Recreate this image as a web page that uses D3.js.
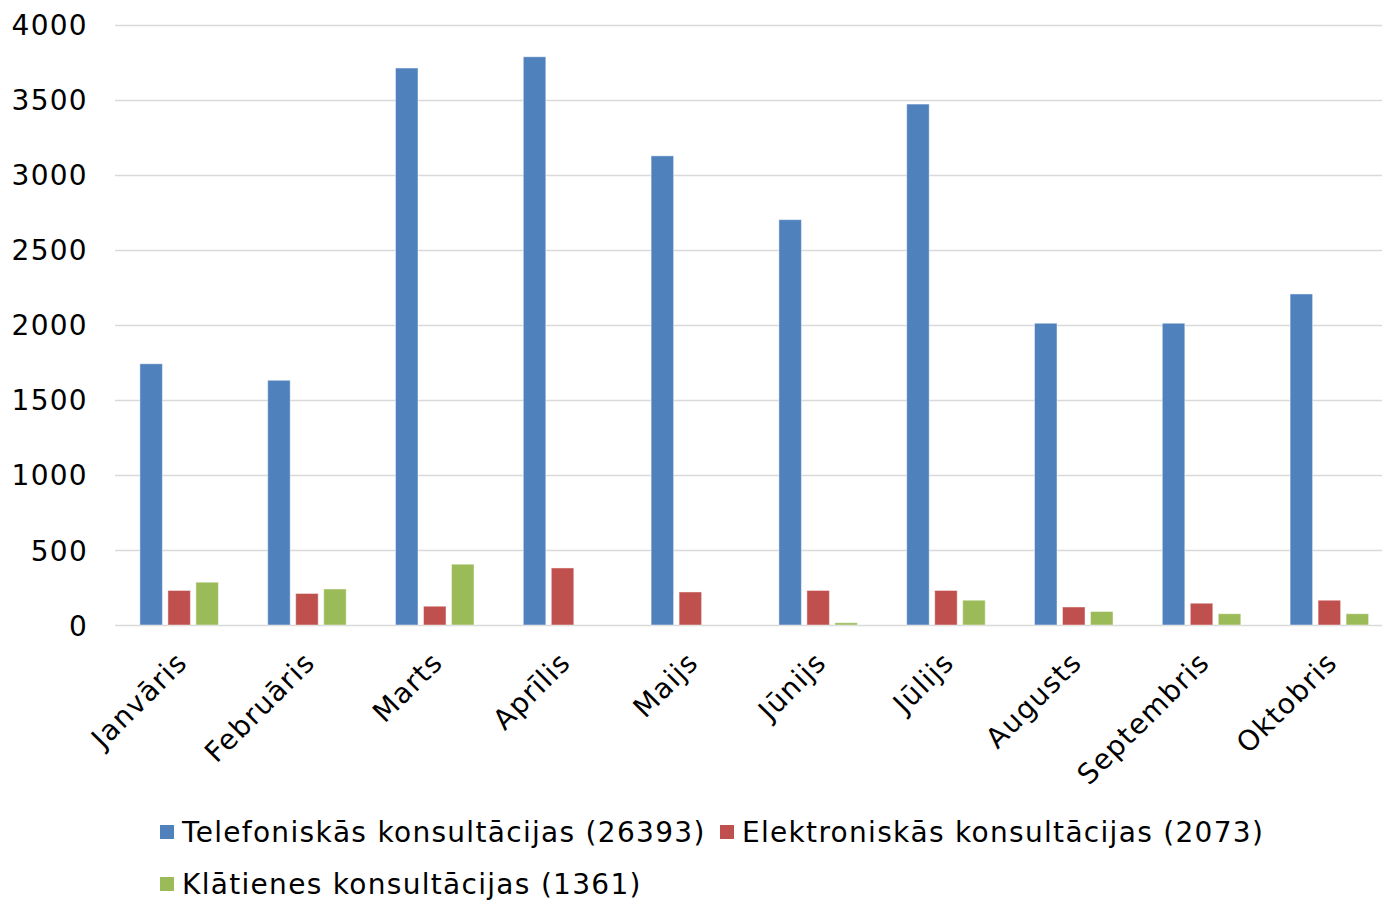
<!DOCTYPE html>
<html>
<head>
<meta charset="utf-8">
<script src="https://cdn.jsdelivr.net/npm/d3@7"></script>
<style>
  html, body { margin: 0; padding: 0; background: #fff; }
  svg { display: block; }
  text { font-family: "DejaVu Sans", Verdana, sans-serif; fill: #000; letter-spacing: 1.3px; }
</style>
</head>
<body>
<svg id="chart" width="1382" height="900"></svg>
<script>
const categories = ["Janvāris", "Februāris", "Marts", "Aprīlis", "Maijs", "Jūnijs", "Jūlijs", "Augusts", "Septembris", "Oktobris"];
const telefoniskas = [1740, 1630, 3710, 3785, 3125, 2700, 3470, 2010, 2010, 2205];
const elektroniskas = [230, 210, 125, 380, 220, 230, 230, 120, 145, 165];
const klatienes = [285, 240, 405, 0, 0, 15, 165, 90, 75, 75];
const seriesNames = ["Telefoniskās konsultācijas (26393)", "Elektroniskās konsultācijas (2073)", "Klātienes konsultācijas (1361)"];
const seriesColors = ["#4F81BD", "#C0504D", "#9BBB59"];
const yTicks = [0, 500, 1000, 1500, 2000, 2500, 3000, 3500, 4000];

(function () {
const series = [telefoniskas, elektroniskas, klatienes];
const svg = d3.select("#chart");

const mLeft = 115, mRight = 1382, mTop = 24.5, mBottom = 625;
const bandRight = 1393;
const fontSize = 28;

const x0 = d3.scaleBand().domain(categories).range([mLeft, bandRight]).padding(0);
const groupW = 84;
const x1 = d3.scaleBand().domain(d3.range(3)).range([0, groupW]).padding(0);
const y = d3.scaleLinear().domain([0, 4000]).range([mBottom, mTop]);

// gridlines
svg.append("g").selectAll("line").data(yTicks).join("line")
  .attr("x1", mLeft).attr("x2", mRight)
  .attr("y1", d => Math.round(y(d)) + 0.5).attr("y2", d => Math.round(y(d)) + 0.5)
  .attr("stroke", "#d9d9d9").attr("stroke-width", 1.3);

// y axis labels
const yAxis = d3.axisLeft(y).tickValues(yTicks).tickSize(0).tickPadding(0).tickFormat(d3.format("d"));
const gy = svg.append("g").attr("transform", `translate(88,0)`).call(yAxis);
gy.select(".domain").remove();
gy.selectAll("text").style("font-size", fontSize + "px").style("font-family", '"DejaVu Sans", Verdana, sans-serif').attr("fill", "#000").attr("dy", "0.36em");

// bars
const groups = svg.append("g").selectAll("g").data(categories).join("g")
  .attr("transform", c => `translate(${x0(c) + (x0.bandwidth() - groupW) / 2},0)`);
groups.selectAll("rect").data((c, i) => series.map((s, k) => ({k, v: s[i]}))).join("rect")
  .attr("x", d => x1(d.k) + 3)
  .attr("width", x1.bandwidth() - 5.5)
  .attr("y", d => y(d.v))
  .attr("height", d => mBottom - y(d.v))
  .attr("fill", d => seriesColors[d.k])
  .attr("stroke", "#ffffff").attr("stroke-opacity", 0.45).attr("stroke-width", 1);

// x axis labels
const xAxis = d3.axisBottom(x0).tickSize(0).tickPadding(0);
const gx = svg.append("g").attr("transform", `translate(0,${mBottom})`).call(xAxis);
gx.select(".domain").remove();
gx.selectAll("text")
  .style("font-size", fontSize + "px").style("font-family", '"DejaVu Sans", Verdana, sans-serif').attr("fill", "#000")
  .attr("text-anchor", "end")
  .attr("dy", null).attr("y", 0)
  .attr("transform", "translate(10,39) rotate(-45)");

// legend
const legendItems = [
  {i: 0, x: 160, y: 832},
  {i: 1, x: 720, y: 832},
  {i: 2, x: 160, y: 884}
];
const lg = svg.append("g").selectAll("g").data(legendItems).join("g")
  .attr("transform", d => `translate(${d.x},${d.y})`);
lg.append("rect").attr("x", 0).attr("y", -7).attr("width", 14).attr("height", 14)
  .attr("fill", d => seriesColors[d.i]);
lg.append("text").attr("x", 22).attr("y", 0).attr("dy", "0.36em")
  .style("font-size", fontSize + "px").text(d => seriesNames[d.i]);
})();
</script>
</body>
</html>
